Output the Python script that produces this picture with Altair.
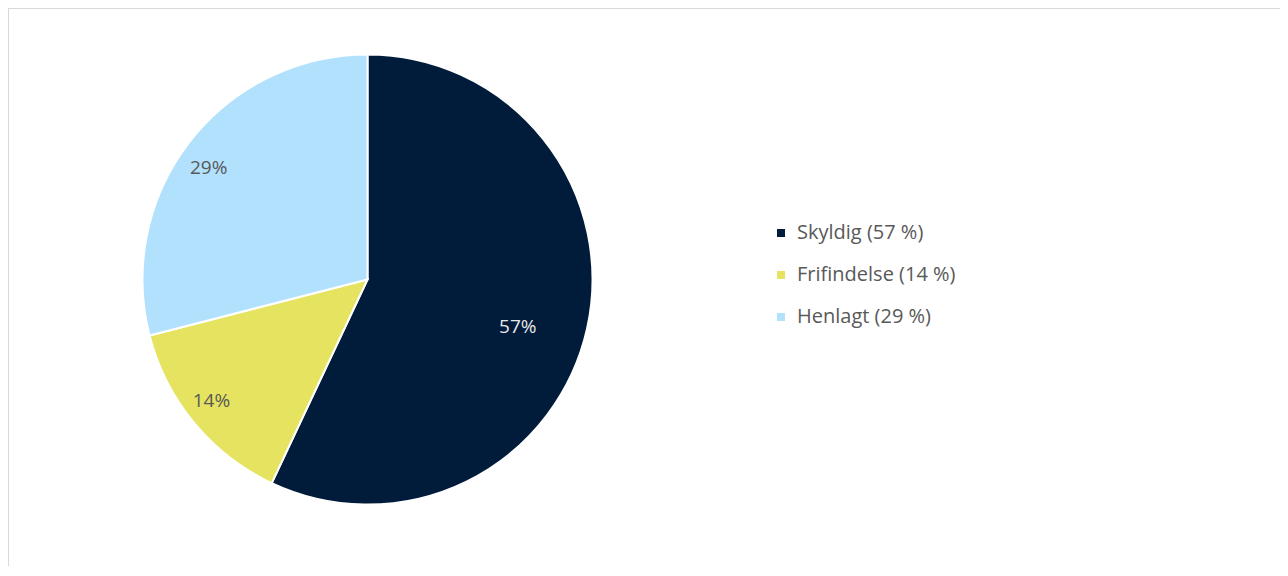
import altair as alt
import pandas as pd

categories = ["Skyldig", "Frifindelse", "Henlagt"]
values = [57, 14, 29]
colors = ["#001C3A", "#E5E35F", "#B1E1FD"]

df = pd.DataFrame({
    "kategori": categories,
    "verdi": values,
    "rekkefolge": list(range(len(categories))),
})
df["legend"] = [f"{c} ({v} %)" for c, v in zip(categories, values)]
df["etikett"] = [f"{v}%" for v in values]

CX, CY, R = 359.5, 271.5, 225
FONT = "Open Sans"

base = alt.Chart(df).encode(
    theta=alt.Theta("verdi:Q", stack=True),
    order=alt.Order("rekkefolge:Q"),
)

pie = base.mark_arc(outerRadius=R, stroke="white", strokeWidth=2).encode(
    x=alt.value(CX),
    y=alt.value(CY),
    color=alt.Color(
        "legend:N",
        sort=df["legend"].tolist(),
        scale=alt.Scale(domain=df["legend"].tolist(), range=colors),
        legend=alt.Legend(
            title=None,
            orient="none",
            legendX=763,
            legendY=215,
            symbolType="square",
            symbolSize=64,
            symbolStrokeWidth=0,
            labelFont=FONT,
            labelFontSize=20,
            labelColor="#595959",
            rowPadding=22,
            labelOffset=6,
        ),
    ),
)


def label_layer(cat, radius, color, dx, dy):
    return base.mark_text(
        radius=radius, font=FONT, fontSize=19, color=color, dx=dx, dy=dy
    ).encode(
        x=alt.value(CX), y=alt.value(CY),
        text=alt.condition(alt.datum.kategori == cat, "etikett:N", alt.value("")),
    )


lab_sky = label_layer("Skyldig", 154, "#E8E8E8", 0, 14)
lab_fri = label_layer("Frifindelse", 196, "#595959", -5, -3)
lab_hen = label_layer("Henlagt", 196, "#595959", -4, 9)

frame_top = alt.Chart(df).mark_rule(color="#D9D9D9", strokeWidth=2).encode(
    x=alt.value(0), x2=alt.value(1273), y=alt.value(0)
)
frame_left = alt.Chart(df).mark_rule(color="#D9D9D9", strokeWidth=2).encode(
    x=alt.value(0), y=alt.value(0), y2=alt.value(570)
)
frame_right = alt.Chart(df).mark_rule(color="#D9D9D9", strokeWidth=2).encode(
    x=alt.value(1273), y=alt.value(0), y2=alt.value(570)
)

chart = (
    alt.layer(pie, lab_sky, lab_fri, lab_hen, frame_top, frame_left, frame_right)
    .properties(width=1272, height=558, padding=0, autosize=alt.AutoSizeParams(type="none"))
    .configure_view(stroke=None)
    .configure(background="white")
)

chart.save("out.html", embed_options={"renderer": "svg", "actions": False})
